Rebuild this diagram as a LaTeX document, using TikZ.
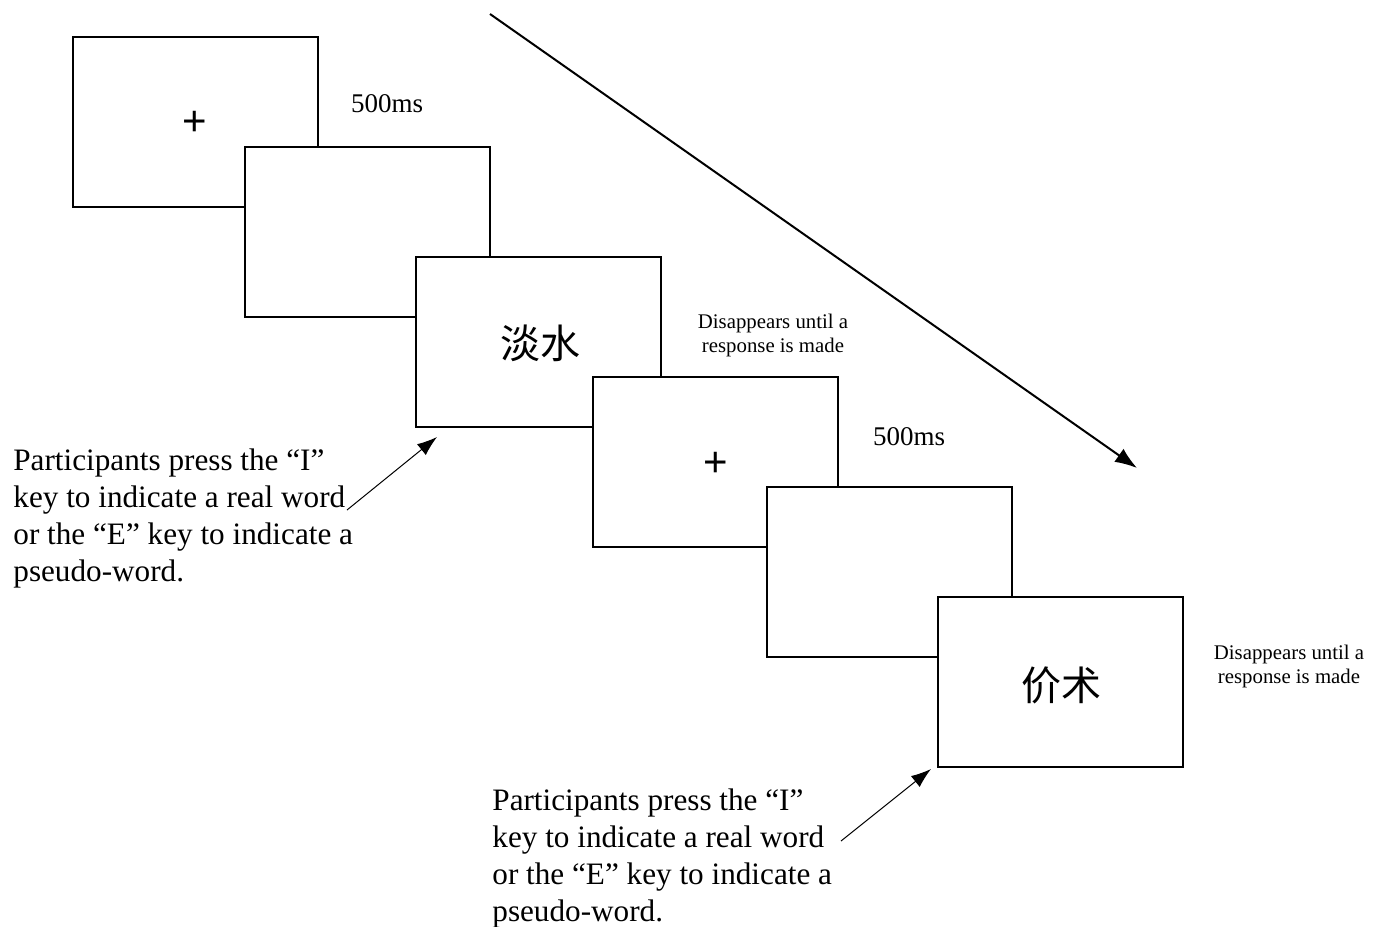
\documentclass[tikz,border=0pt]{standalone}
\usepackage{fontspec}
\setmainfont{Liberation Serif}
\newfontfamily\cjk{Noto Sans CJK SC}
\newfontfamily\plusfont{Liberation Sans}
\usetikzlibrary{arrows.meta}
\begin{document}
\begin{tikzpicture}[x=0.5pt,y=-0.5pt,
 screen/.style={draw, line width=1pt, fill=white, minimum width=122.5pt, minimum height=85pt, inner sep=0pt},
 plus/.style={font=\plusfont\fontsize{21}{21}\selectfont, inner sep=0pt},
 hanzi/.style={font=\cjk\fontsize{20}{20}\selectfont},
 lbl/.style={font=\fontsize{13.5}{16}\selectfont, inner sep=0pt, anchor=base},
 note/.style={font=\fontsize{10.4}{12}\selectfont, align=center, inner sep=0pt},
 instr/.style={font=\fontsize{15.6}{18.5}\selectfont, align=left, inner sep=0pt, anchor=north west},
 pointer/.style={-{Latex[length=10pt,width=7pt]}, line width=0.5pt},
 timeline/.style={-{Latex[length=11pt,width=8pt]}, line width=1pt}]
\useasboundingbox (0,0) rectangle (1385,926);
% time arrow
\coordinate (t0) at (490,14);
\coordinate (t1) at (1137,468);
\draw[timeline] (t0) -- (t1);
% screens
\node[screen] (b1) at (195.5,121.5) {};
\node[plus] (plus1) at (195,123) {+};
\node[screen] (b2) at (367.5,232) {};
\node[screen] (b3) at (538.5,342) {};
\node[hanzi] (w1) at (540,343) {淡水};
\node[screen] (b4) at (715.5,462) {};
\node[plus] (plus2) at (716,464) {+};
\node[screen] (b5) at (889.5,572) {};
\node[screen] (b6) at (1060.5,682) {};
\node[hanzi] (w2) at (1061,685) {价术};
% labels
\node[lbl] (ms1) at (387,112) {500ms};
\node[lbl] (ms2) at (909,445) {500ms};
\node[note] (n1) at (773,335) {Disappears until a\\response is made};
\node[note] (n2) at (1289,666) {Disappears until a\\response is made};
% instructions
\node[instr] (i1) at (13,448) {Participants press the “I”\\key to indicate a real word\\or the “E” key to indicate a\\pseudo-word.};
\node[instr] (i2) at (492,788) {Participants press the “I”\\key to indicate a real word\\or the “E” key to indicate a\\pseudo-word.};
\coordinate (p1s) at (347,510);
\coordinate (p1e) at (437,437);
\coordinate (p2s) at (841,841);
\coordinate (p2e) at (931,769);
\draw[pointer] (p1s) -- (p1e);
\draw[pointer] (p2s) -- (p2e);
\end{tikzpicture}
\end{document}
